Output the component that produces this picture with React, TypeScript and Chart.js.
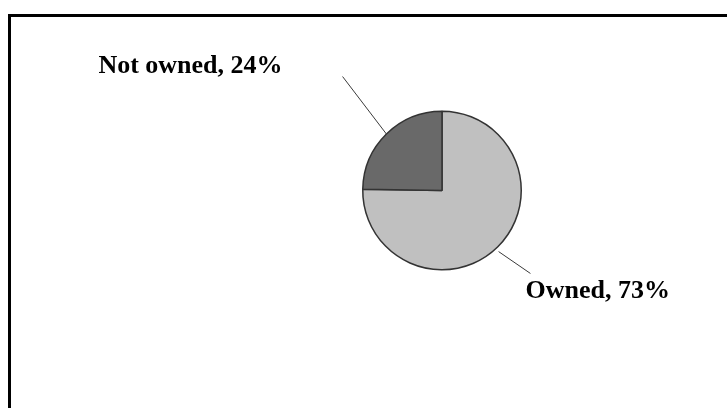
import React, { useEffect, useRef } from "react";
import { Chart, registerables } from "chart.js";

Chart.register(...registerables);

const categories = ["Owned", "Not owned"];
const values = [73, 24];
const sliceColors = ["#C0C0C0", "#696969"];

const labelPlugin = {
  id: "pieLabels",
  afterDraw(chart: any) {
    const meta = chart.getDatasetMeta(0);
    const ctx = chart.ctx;
    ctx.save();
    meta.data.forEach((arc: any, i: number) => {
      const { x, y, startAngle, endAngle, outerRadius } = arc.getProps(
        ["x", "y", "startAngle", "endAngle", "outerRadius"],
        true
      );
      const mid = (startAngle + endAngle) / 2;
      const text = `${categories[i]}, ${values[i]}%`;
      let r1: number, r2: number, a1: number, a2: number;
      if (i === 1) {
        r1 = outerRadius;
        r2 = outerRadius + 72;
        a1 = mid;
        a2 = mid + 0.06;
      } else {
        r1 = outerRadius + 4;
        r2 = outerRadius + 42;
        a1 = mid + 0.03;
        a2 = mid - 0.04;
      }
      const p1 = { x: x + r1 * Math.cos(a1), y: y + r1 * Math.sin(a1) };
      const p2 = { x: x + r2 * Math.cos(a2), y: y + r2 * Math.sin(a2) };
      ctx.strokeStyle = "#3a3a3a";
      ctx.lineWidth = 1;
      ctx.beginPath();
      ctx.moveTo(p1.x, p1.y);
      ctx.lineTo(p2.x, p2.y);
      ctx.stroke();
      ctx.fillStyle = "#000000";
      ctx.font = "bold 26px 'Liberation Serif', 'Times New Roman', serif";
      ctx.textBaseline = "alphabetic";
      if (i === 1) {
        ctx.textAlign = "right";
        ctx.fillText(text, p2.x - 60, p2.y - 4);
      } else {
        ctx.textAlign = "left";
        ctx.fillText(text, p2.x - 5, p2.y + 25);
      }
    });
    ctx.restore();
  },
};

export default function App() {
  const ref = useRef<HTMLCanvasElement | null>(null);
  useEffect(() => {
    document.body.style.overflow = "hidden";
    const chart = new Chart(ref.current as HTMLCanvasElement, {
      type: "pie",
      data: {
        labels: categories,
        datasets: [
          {
            data: values,
            backgroundColor: sliceColors,
            borderColor: "#333333",
            borderWidth: 1.5,
          },
        ],
      },
      options: {
        responsive: false,
        animation: false,
        layout: { padding: { left: 362, right: 205, top: 110, bottom: 137 } },
        plugins: {
          legend: { display: false },
          tooltip: { enabled: false },
          title: { display: false },
        },
      },
      plugins: [labelPlugin],
    });
    return () => chart.destroy();
  }, []);
  return (
    <div>
      <div
        style={{
          position: "absolute",
          left: 8,
          top: 14,
          width: 719,
          height: 394,
          borderTop: "3px solid #000",
          borderLeft: "3px solid #000",
          boxSizing: "border-box",
        }}
      />
      <canvas
        ref={ref}
        width={727}
        height={408}
        style={{ position: "absolute", left: 0, top: 0, width: 727, height: 408 }}
      />
    </div>
  );
}
